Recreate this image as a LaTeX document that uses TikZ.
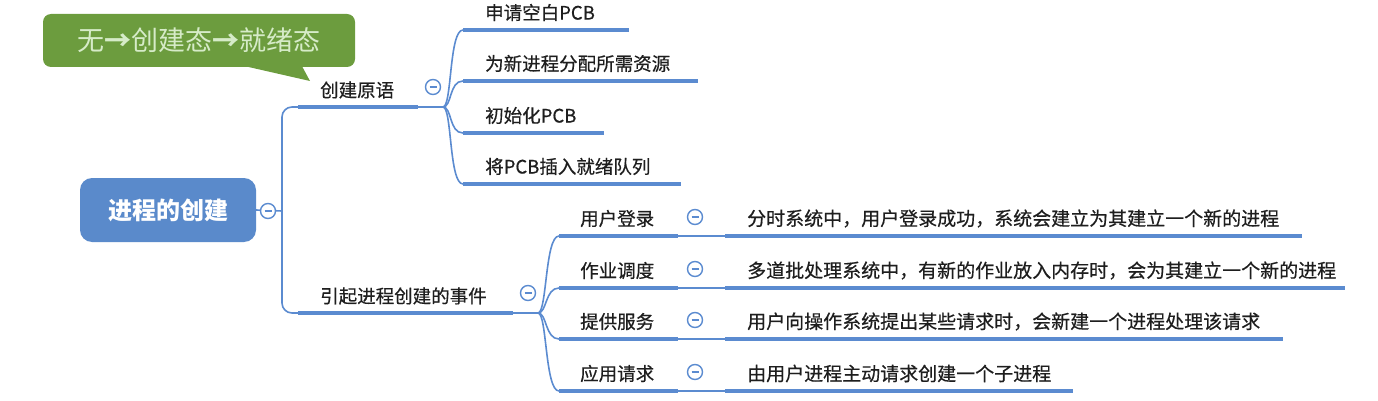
\documentclass[tikz,border=0pt]{standalone}
\usepackage{fontspec}
\setmainfont{Noto Sans CJK SC}
\newfontfamily\medcjk{Noto Sans CJK SC}[FakeBold=0.5]
\usetikzlibrary{calc}
\definecolor{mmblue}{HTML}{5B8BD0}
\definecolor{rootblue}{HTML}{5A8ACB}
\definecolor{callgreen}{HTML}{6C9C3E}
\definecolor{calltext}{HTML}{D6EBC8}
\definecolor{txt}{HTML}{1E1E1E}
\tikzset{
  thinln/.style={draw=mmblue, line width=1.6pt},
  thickln/.style={draw=mmblue, line width=4.5pt},
  lbl/.style={anchor=west, inner sep=0pt, text=txt, font=\medcjk\fontsize{18.5pt}{20pt}\selectfont},
  desc/.style={anchor=west, inner sep=0pt, text=txt, font=\medcjk\fontsize{19pt}{21pt}\selectfont},
  collapse/.style={circle, draw=mmblue, fill=white, line width=1.4pt, minimum size=15pt, inner sep=0pt},
  rootbox/.style={fill=rootblue, rounded corners=12pt, minimum width=176pt, minimum height=64pt, text=white, font=\fontsize{24pt}{26pt}\selectfont\bfseries},
  notebox/.style={fill=callgreen, rounded corners=8pt, minimum width=312pt, minimum height=53pt, text=calltext, font=\fontsize{27pt}{29pt}\selectfont},
}
\begin{document}
\begin{tikzpicture}[x=1pt,y=-1pt]
\useasboundingbox (0,0) rectangle (1378,401);

% callout
\node[notebox] (note) at (199,40.5) {无\textbf{→}创建态\textbf{→}就绪态};
\coordinate (tip) at (310,81);
\fill[callgreen] ($(note.south)+(46,-1)$) -- (tip) -- ($(note.south)+(103,-1)$) -- cycle;

% root
\node[rootbox] (root) at (168,210) {进程的创建};
\coordinate (trunk) at (282,211);

% level 1
\node[lbl] (p1) at (320,90) {创建原语};
\coordinate (p1a) at (298,107); \coordinate (p1b) at (418,107); \coordinate (p1j) at (443,107);
\node[lbl] (p2) at (320,296) {引起进程创建的事件};
\coordinate (p2a) at (298,313); \coordinate (p2b) at (513,313); \coordinate (p2j) at (538,313);

\draw[thinln] (root.east) -- (trunk);
\draw[thinln, rounded corners=10pt] (p1a) -- (282,107) -- (282,313) -- (p2a);
\draw[thinln] (p1b) -- (p1j);
\draw[thinln] (p2b) -- (p2j);
\draw[thickln] (p1a) -- (p1b);
\draw[thickln] (p2a) -- (p2b);

% children of 创建原语
\foreach \i/\y/\e/\t in {1/30/629/申请空白PCB, 2/81/698/为新进程分配所需资源, 3/133/604/初始化PCB, 4/184/681/将PCB插入就绪队列}{
  \coordinate (a\i s) at (463,\y);
  \coordinate (a\i e) at (\e,\y);
  \node[lbl] (a\i) at (485,\y-17.5) {\t};
  \draw[thinln] (p1j) .. controls (452,107) and (449,\y) .. (a\i s);
  \draw[thickln] (a\i s) -- (a\i e);
}

% children of 引起进程创建的事件
\foreach \i/\y/\e/\t/\d in {1/236/1302/用户登录/{分时系统中，用户登录成功，系统会建立为其建立一个新的进程},
  2/288/1345/作业调度/{多道批处理系统中，有新的作业放入内存时，会为其建立一个新的进程},
  3/339/1283/提供服务/{用户向操作系统提出某些请求时，会新建一个进程处理该请求},
  4/391/1073/应用请求/{由用户进程主动请求创建一个子进程}}{
  \coordinate (b\i s) at (559,\y);
  \coordinate (b\i e) at (678,\y);
  \coordinate (d\i s) at (725,\y);
  \coordinate (d\i e) at (\e,\y);
  \node[lbl] (b\i) at (580,\y-17.5) {\t};
  \node[desc] (d\i) at (747,\y-17.5) {\d};
  \draw[thinln] (p2j) .. controls (547,313) and (545,\y) .. (b\i s);
  \draw[thinln] (b\i e) -- (d\i s);
  \draw[thickln] (b\i s) -- (b\i e);
  \draw[thickln] (d\i s) -- (d\i e);
  \node[collapse] (cb\i) at (695,\y-19) {};
  \draw[mmblue, line width=1.4pt] ($(cb\i.center)+(-3.5,0)$) -- ($(cb\i.center)+(3.5,0)$);
}

% collapse buttons
\node[collapse] (cr) at (268,211) {};
\node[collapse] (c1) at (433,87) {};
\node[collapse] (c2) at (528,293) {};
\foreach \n in {cr,c1,c2}{
  \draw[mmblue, line width=1.4pt] ($(\n.center)+(-3.5,0)$) -- ($(\n.center)+(3.5,0)$);
}
\end{tikzpicture}
\end{document}
